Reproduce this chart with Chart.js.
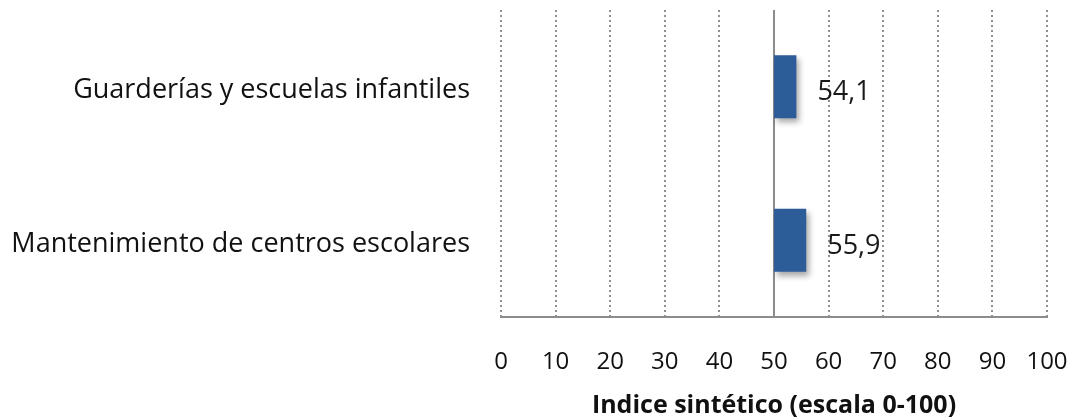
<!DOCTYPE html>
<html>
<head>
<meta charset="utf-8">
<script src="https://cdn.jsdelivr.net/npm/chart.js@4"></script>
<style>
  html, body { margin: 0; padding: 0; background: #fff; }
  #wrap { width: 1076px; height: 418px; }
</style>
</head>
<body>
<div id="wrap"><canvas id="indiceChart"></canvas></div>
<script>
const categories = ["Guarderías y escuelas infantiles", "Mantenimiento de centros escolares"];
const values = [54.1, 55.9];
const baseline = 50;
const tickLabels = [0, 10, 20, 30, 40, 50, 60, 70, 80, 90, 100];
const axisTitle = "Indice sintético (escala 0-100)";

const FONT = "'Open Sans', Lato, sans-serif";

// bars start at the 50 line, so build floating bars
const barData = values.map(v => [baseline, v]);

const shadowPlugin = {
    id: "barShadow",
    beforeDatasetsDraw(chart) {
        const ctx = chart.ctx;
        ctx.save();
        ctx.shadowColor = "rgba(0,0,0,0.35)";
        ctx.shadowBlur = 6;
        ctx.shadowOffsetX = 3;
        ctx.shadowOffsetY = 4;
    },
    afterDatasetsDraw(chart) {
        chart.ctx.restore();
    }
};

const refLinePlugin = {
    id: "refLine",
    beforeDatasetsDraw(chart) {
        const { ctx, chartArea, scales } = chart;
        const x = scales.x.getPixelForValue(baseline);
        ctx.save();
        ctx.strokeStyle = "#8c8c8c";
        ctx.lineWidth = 2;
        ctx.beginPath();
        ctx.moveTo(x, chartArea.top);
        ctx.lineTo(x, chartArea.bottom);
        ctx.stroke();
        ctx.restore();
    }
};

const labelPlugin = {
    id: "valueLabels",
    afterDatasetsDraw(chart) {
        const ctx = chart.ctx;
        const meta = chart.getDatasetMeta(0);
        ctx.save();
        ctx.font = "27px " + FONT;
        ctx.fillStyle = "#1a1a1a";
        ctx.textAlign = "left";
        ctx.textBaseline = "middle";
        meta.data.forEach((bar, i) => {
            ctx.fillText(values[i].toFixed(1).replace(".", ","), bar.x + 21, bar.y + 6);
        });
        ctx.restore();
    }
};

new Chart(document.getElementById("indiceChart"), {
    type: "bar",
    data: {
        labels: categories,
        datasets: [{
            data: barData,
            backgroundColor: "#2C5D98",
            borderWidth: 0,
            borderSkipped: false,
            barPercentage: 0.82,
            categoryPercentage: 0.5
        }]
    },
    options: {
        indexAxis: "y",
        responsive: true,
        maintainAspectRatio: false,
        animation: false,
        layout: { padding: { top: 10, right: 29, left: 0, bottom: 0 } },
        plugins: {
            legend: { display: false },
            tooltip: { enabled: false }
        },
        scales: {
            x: {
                min: 0,
                max: 100,
                afterBuildTicks(scale) {
                    scale.ticks = tickLabels.map(v => ({ value: v }));
                },
                afterFit(scale) { scale.height = 101; },
                grid: {
                    color: ctx => (ctx.tick && ctx.tick.value === baseline) ? "rgba(0,0,0,0)" : "#8f8f8f",
                    lineWidth: 2,
                    drawTicks: true,
                    tickLength: 31,
                    tickColor: "rgba(0,0,0,0)"
                },
                border: { display: true, color: "#8c8c8c", width: 2, dash: [2, 3] },
                ticks: {
                    padding: 0,
                    color: "#111",
                    font: { family: FONT, size: 24 }
                },
                title: {
                    display: true,
                    text: axisTitle,
                    color: "#111",
                    font: { family: FONT, size: 25, weight: "bold" },
                    padding: { top: 18, bottom: -3 }
                }
            },
            y: {
                afterFit(scale) { scale.width = 501; },
                grid: {
                    display: true,
                    drawOnChartArea: false,
                    drawTicks: true,
                    tickLength: 31,
                    tickColor: "rgba(0,0,0,0)",
                    color: "rgba(0,0,0,0)"
                },
                border: { display: false },
                ticks: {
                    padding: 0,
                    labelOffset: 4,
                    color: "#111",
                    font: { family: FONT, size: 27, lineHeight: 0.7 }
                }
            }
        }
    },
    plugins: [refLinePlugin, shadowPlugin, labelPlugin]
});
</script>
</body>
</html>
